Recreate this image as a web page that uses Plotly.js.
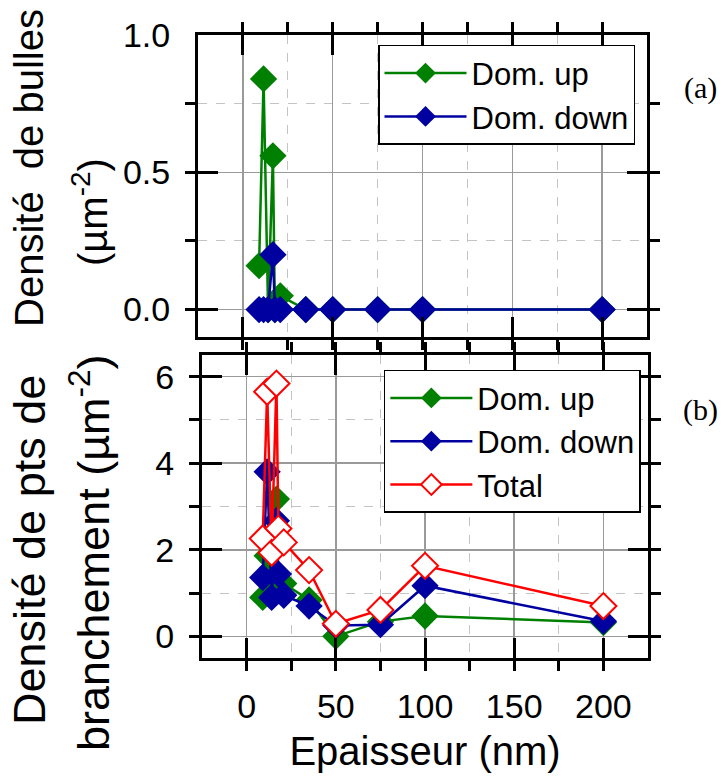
<!DOCTYPE html>
<html>
<head>
<meta charset="utf-8">
<script src="https://cdn.plot.ly/plotly-3.0.1.min.js"></script>
<style>html,body{margin:0;padding:0;background:#fff;}</style>
</head>
<body>
<div id="chart" style="width:724px;height:776px;"></div>
<script>
// Thickness (nm)
const thickness = [9, 11.5, 14, 16.7, 17.8, 20.8, 35, 50, 75, 100, 200];
// (a) bubble density (µm^-2)
const bubblesUp   = [0.16, 0.84, 0.0, 0.56, 0.0, 0.05, 0, 0, 0, 0, 0];
const bubblesDown = [0, 0, 0, 0.20, 0, 0, 0, 0, 0, 0, 0];
// (b) branching point density (µm^-2)
const branchUp    = [0.90, 1.86, 1.03, 3.17, 1.05, 1.22, 0.84, 0.00, 0.34, 0.47, 0.32];
const branchDown  = [1.36, 3.80, 0.90, 2.67, 1.44, 0.95, 0.70, 0.25, 0.27, 1.17, 0.35];
const branchTotal = [2.26, 5.65, 1.93, 5.84, 2.49, 2.17, 1.53, 0.29, 0.61, 1.63, 0.70];

const xTicks = [0, 50, 100, 150, 200];
const yTicksA = [0, 0.5, 1.0];
const yTicksB = [0, 2, 4, 6];

const FONT = 'Liberation Sans, Arial, sans-serif';
const SERIF = 'Liberation Serif, Times New Roman, serif';
const GREEN = '#008000', BLUE = '#0000a0', RED = '#ff0000';

function series(x, y, name, color, xa, ya, legend, open) {
  return {
    x: x, y: y, name: name, type: 'scatter', mode: 'lines+markers',
    xaxis: xa, yaxis: ya, legend: legend,
    line: {color: color, width: 2.5},
    marker: open
      ? {symbol: 'diamond', size: 20, color: '#ffffff', line: {color: color, width: 2}}
      : {symbol: 'diamond', size: 21, color: color, line: {color: color, width: 0}}
  };
}

const data = [
  series(thickness, bubblesUp, 'Dom. up', GREEN, 'x', 'y', 'legend', false),
  series(thickness, bubblesDown, 'Dom. down', BLUE, 'x', 'y', 'legend', false),
  series(thickness, branchUp, 'Dom. up', GREEN, 'x2', 'y2', 'legend2', false),
  series(thickness, branchDown, 'Dom. down', BLUE, 'x2', 'y2', 'legend2', false),
  series(thickness, branchTotal, 'Total', RED, 'x2', 'y2', 'legend2', true)
];

function axisBase() {
  return {
    showline: true, linecolor: '#000', linewidth: 3, mirror: 'allticks',
    ticks: 'inside', ticklen: 20, tickwidth: 3, tickcolor: '#000',
    showgrid: true, gridcolor: '#9a9a9a', gridwidth: 1.5,
    zeroline: false,
    tickfont: {family: FONT, size: 34, color: '#000'},
    ticklabelstandoff: 18,
    minor: {ticklen: 10, tickwidth: 3, tickcolor: '#000', showgrid: true,
            gridcolor: '#c4c4c4', gridwidth: 1, griddash: 'dash'}
  };
}

const xa = Object.assign(axisBase(), {
  domain: [0, 0.998], anchor: 'y', range: [-25, 225],
  tickmode: 'array', tickvals: xTicks, showticklabels: false
});
xa.minor = Object.assign(xa.minor, {dtick: 25, tick0: 0});
const xa2 = Object.assign(axisBase(), {
  domain: [0.009, 1], anchor: 'y2', range: [-25, 225],
  tickmode: 'array', tickvals: xTicks, ticktext: xTicks.map(String),
  ticklabelstandoff: 16,
  title: {text: 'Epaisseur (nm)', font: {family: FONT, size: 40, color: '#000'}, standoff: 14}
});
xa2.minor = Object.assign(xa2.minor, {dtick: 25, tick0: 0});
const ya = Object.assign(axisBase(), {
  domain: [0.5152, 1], anchor: 'x', range: [-0.1, 1.0],
  tickmode: 'array', tickvals: yTicksA, ticktext: yTicksA.map(v => v.toFixed(1))
});
ya.minor = Object.assign(ya.minor, {dtick: 0.25, tick0: 0});
const ya2 = Object.assign(axisBase(), {
  domain: [0, 0.4864], anchor: 'x2', range: [-0.5, 6.5],
  tickmode: 'array', tickvals: yTicksB, ticktext: yTicksB.map(String)
});
ya2.minor = Object.assign(ya2.minor, {dtick: 1, tick0: 0});

const legendBase = {
  xanchor: 'left', yanchor: 'top', bgcolor: '#fff',
  bordercolor: '#000', borderwidth: 1.5,
  font: {family: FONT, size: 31, color: '#000'},
  itemwidth: 82, tracegroupgap: 0
};

const yTitleFont = {family: FONT, size: 40, color: '#000'};
const yTitleFontB = {family: FONT, size: 45, color: '#000'};
const layout = {
  width: 724, height: 776,
  margin: {l: 198, r: 76, t: 35, b: 118},
  paper_bgcolor: '#fff', plot_bgcolor: '#fff',
  showlegend: true,
  xaxis: xa, yaxis: ya, xaxis2: xa2, yaxis2: ya2,
  legend: Object.assign({}, legendBase, {x: 0.4, y: 0.984}),
  legend2: Object.assign({}, legendBase, {x: 0.413, y: 0.4627}),
  annotations: [
    {text: 'Densité  de bulles', xref: 'paper', yref: 'paper', textangle: -90,
     x: (29 - 198) / 450, y: 1 - (168 - 35) / 623, xanchor: 'center', yanchor: 'middle',
     showarrow: false, font: yTitleFont},
    {text: '(µm<sup>-2</sup>)', xref: 'paper', yref: 'paper', textangle: -90,
     x: (90 - 198) / 450, y: 1 - (212 - 35) / 623, xanchor: 'center', yanchor: 'middle',
     showarrow: false, font: yTitleFont},
    {text: 'Densité de pts de', xref: 'paper', yref: 'paper', textangle: -90,
     x: (29 - 198) / 450, y: 1 - (550 - 35) / 623, xanchor: 'center', yanchor: 'middle',
     showarrow: false, font: yTitleFontB},
    {text: 'branchement (µm<sup>-2</sup>)', xref: 'paper', yref: 'paper', textangle: -90,
     x: (90 - 198) / 450, y: 1 - (553 - 35) / 623, xanchor: 'center', yanchor: 'middle',
     showarrow: false, font: yTitleFontB},
    {text: '(a)', xref: 'paper', yref: 'paper', x: (700 - 198) / 450, y: 1 - (88 - 35) / 623,
     xanchor: 'center', yanchor: 'middle', showarrow: false,
     font: {family: SERIF, size: 30, color: '#000'}},
    {text: '(b)', xref: 'paper', yref: 'paper', x: (700 - 198) / 450, y: 1 - (410 - 35) / 623,
     xanchor: 'center', yanchor: 'middle', showarrow: false,
     font: {family: SERIF, size: 30, color: '#000'}}
  ]
};

Plotly.newPlot('chart', data, layout, {displayModeBar: false, staticPlot: true});
</script>
</body>
</html>
